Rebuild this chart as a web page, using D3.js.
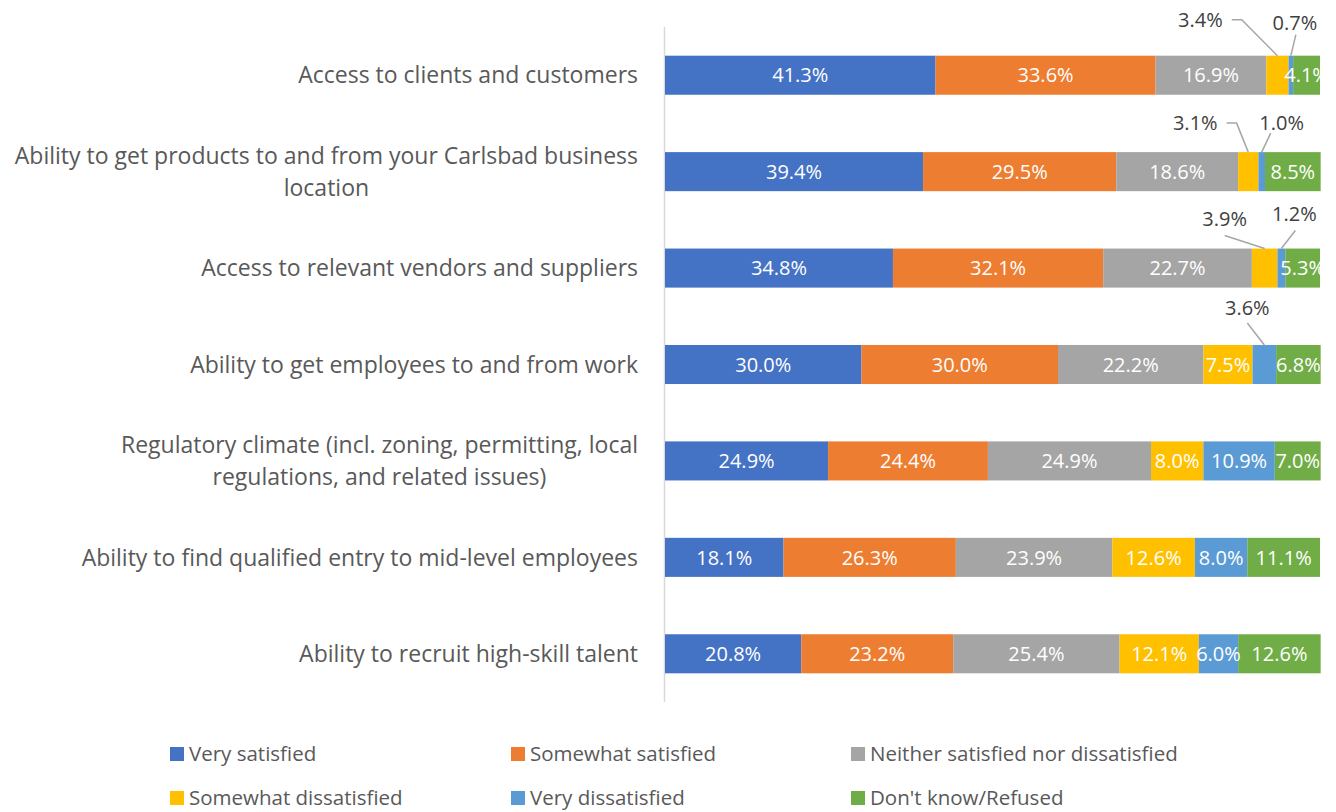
<!DOCTYPE html>
<html>
<head>
<meta charset="utf-8">
<script src="https://cdn.jsdelivr.net/npm/d3@7"></script>
<style>
    body { margin: 0; background: #fff; }
    svg { display: block; font-family: "Open Sans", Lato, sans-serif; }
</style>
</head>
<body>
<div id="chart"></div>
<script>
// categories (top to bottom), "\n" marks the wrap used in the original
const categories = [
    "Access to clients and customers",
    "Ability to get products to and from your Carlsbad business\nlocation",
    "Access to relevant vendors and suppliers",
    "Ability to get employees to and from work",
    "Regulatory climate (incl. zoning, permitting, local\nregulations, and related issues)",
    "Ability to find qualified entry to mid-level employees",
    "Ability to recruit high-skill talent"
];

const seriesNames = ["Very satisfied", "Somewhat satisfied", "Neither satisfied nor dissatisfied",
    "Somewhat dissatisfied", "Very dissatisfied", "Don't know/Refused"];
const seriesColors = ["#4472C4", "#ED7D31", "#A5A5A5", "#FFC000", "#5B9BD5", "#70AD47"];

// percentages per series, one value per category
const verySatisfied       = [41.3, 39.4, 34.8, 30.0, 24.9, 18.1, 20.8];
const somewhatSatisfied   = [33.6, 29.5, 32.1, 30.0, 24.4, 26.3, 23.2];
const neither             = [16.9, 18.6, 22.7, 22.2, 24.9, 23.9, 25.4];
const somewhatDissatisfied = [3.4, 3.1, 3.9, 7.5, 8.0, 12.6, 12.1];
const veryDissatisfied    = [0.7, 1.0, 1.2, 3.6, 10.9, 8.0, 6.0];
const dontKnow            = [4.1, 8.5, 5.3, 6.8, 7.0, 11.1, 12.6];

// small segments whose labels sit outside the bar with a leader line
// (row, series index, label offset from segment top centre, line start offset from label centre)
const callouts = [
    {row: 0, s: 3, dx: -77, dy: -36, elbow: true},
    {row: 0, s: 4, dx: 4, dy: -33, sx: 1, sy: 12},
    {row: 1, s: 3, dx: -53, dy: -29, elbow: true},
    {row: 1, s: 4, dx: 20, dy: -29, sx: -11, sy: 10},
    {row: 2, s: 3, dx: -40, dy: -30, sx: 0, sy: 17},
    {row: 2, s: 4, dx: 13, dy: -35, sx: 1, sy: 17},
    {row: 3, s: 4, dx: -17, dy: -37, sx: 0, sy: 15}
];

class StackedBars {
    constructor(parentElement) {
        this.parentElement = parentElement;
        this.initVis();
    }

    initVis() {
        let vis = this;

        vis.width = 1336;
        vis.height = 812;

        vis.svg = d3.select("#" + vis.parentElement).append("svg")
            .attr("width", vis.width)
            .attr("height", vis.height);

        vis.x = d3.scaleLinear().domain([0, 100]).range([665, 1320]);
        vis.y = d3.scaleBand().domain(d3.range(categories.length))
            .range([27, 702])
            .paddingInner(0.595)
            .paddingOuter(0.2975);

        vis.wrangleData();
    }

    wrangleData() {
        let vis = this;
        const cols = [verySatisfied, somewhatSatisfied, neither, somewhatDissatisfied, veryDissatisfied, dontKnow];
        vis.rows = categories.map((c, i) => {
            let row = {i: i, name: c};
            seriesNames.forEach((s, j) => row[s] = cols[j][i]);
            return row;
        });
        vis.stack = d3.stack().keys(seriesNames)(vis.rows);
        vis.updateVis();
    }

    updateVis() {
        let vis = this;

        // axis line
        vis.svg.append("line")
            .attr("x1", 664.5).attr("x2", 664.5)
            .attr("y1", vis.y.range()[0]).attr("y2", vis.y.range()[1])
            .attr("stroke", "#d9d9d9")
            .attr("stroke-width", 1.5);

        // bars
        let layer = vis.svg.append("g").selectAll("g")
            .data(vis.stack)
            .join("g")
            .attr("fill", (d, j) => seriesColors[j]);

        layer.selectAll("rect")
            .data(d => d)
            .join("rect")
            .attr("x", d => vis.x(d[0]))
            .attr("width", d => vis.x(d[1]) - vis.x(d[0]))
            .attr("y", d => vis.y(d.data.i))
            .attr("height", vis.y.bandwidth());

        // inside labels
        let isCallout = (row, s) => callouts.some(c => c.row === row && c.s === s);
        let inside = [];
        vis.stack.forEach((ser, j) => ser.forEach(d => {
            if (!isCallout(d.data.i, j)) inside.push({d: d, j: j});
        }));

        vis.svg.append("g")
            .attr("fill", "#fff")
            .style("font-size", "20px")
            .attr("text-anchor", "middle")
            .selectAll("text")
            .data(inside)
            .join("text")
            .attr("x", e => (vis.x(e.d[0]) + vis.x(e.d[1])) / 2)
            .attr("y", e => vis.y(e.d.data.i) + vis.y.bandwidth() / 2)
            .attr("dy", "0.36em")
            .text(e => d3.format(".1f")(e.d.data[seriesNames[e.j]]) + "%");

        // callout labels with leader lines
        let cg = vis.svg.append("g");
        callouts.forEach(c => {
            let d = vis.stack[c.s][c.row];
            let px = (vis.x(d[0]) + vis.x(d[1])) / 2;
            let py = vis.y(c.row);
            let lx = px + c.dx, ly = py + c.dy;
            let txt = cg.append("text")
                .attr("x", lx).attr("y", ly)
                .attr("dy", "0.36em")
                .attr("text-anchor", "middle")
                .attr("fill", "#404040")
                .style("font-size", "20px")
                .text(d3.format(".1f")(d.data[seriesNames[c.s]]) + "%");
            let pts;
            if (c.elbow) {
                let w = txt.node().getComputedTextLength();
                let x0 = lx + w / 2 + 9;
                pts = [[x0, ly], [x0 + 10, ly], [px, py]];
            } else {
                pts = [[lx + c.sx, ly + c.sy], [px, py]];
            }
            cg.append("path")
                .attr("d", d3.line()(pts))
                .attr("fill", "none")
                .attr("stroke", "#a6a6a6")
                .attr("stroke-width", 1.5);
        });

        // category labels
        let lab = vis.svg.append("g")
            .attr("fill", "#595959")
            .style("font-size", "23px");
        categories.forEach((c, i) => {
            let lines = c.split("\n");
            let cy = vis.y(i) + vis.y.bandwidth() / 2;
            let lh = 32;
            let texts = lines.map((l, k) => lab.append("text")
                .attr("y", cy + (k - (lines.length - 1) / 2) * lh)
                .attr("dy", "0.36em")
                .text(l));
            let maxW = d3.max(texts, t => t.node().getComputedTextLength());
            let centre = 638 - maxW / 2;
            texts.forEach(t => t.attr("x", centre).attr("text-anchor", "middle"));
        });

        // legend
        let legX = [170, 511, 851];
        let legY = [754, 798];
        let leg = vis.svg.append("g").selectAll("g")
            .data(seriesNames)
            .join("g")
            .attr("transform", (d, j) => `translate(${legX[j % 3]},${legY[Math.floor(j / 3)]})`);
        leg.append("rect")
            .attr("x", 0).attr("y", -7)
            .attr("width", 14).attr("height", 14)
            .attr("fill", (d, j) => seriesColors[j]);
        leg.append("text")
            .attr("x", 19)
            .attr("dy", "0.36em")
            .attr("fill", "#595959")
            .style("font-size", "20.5px")
            .text(d => d);
    }
}

new StackedBars("chart");
</script>
</body>
</html>
